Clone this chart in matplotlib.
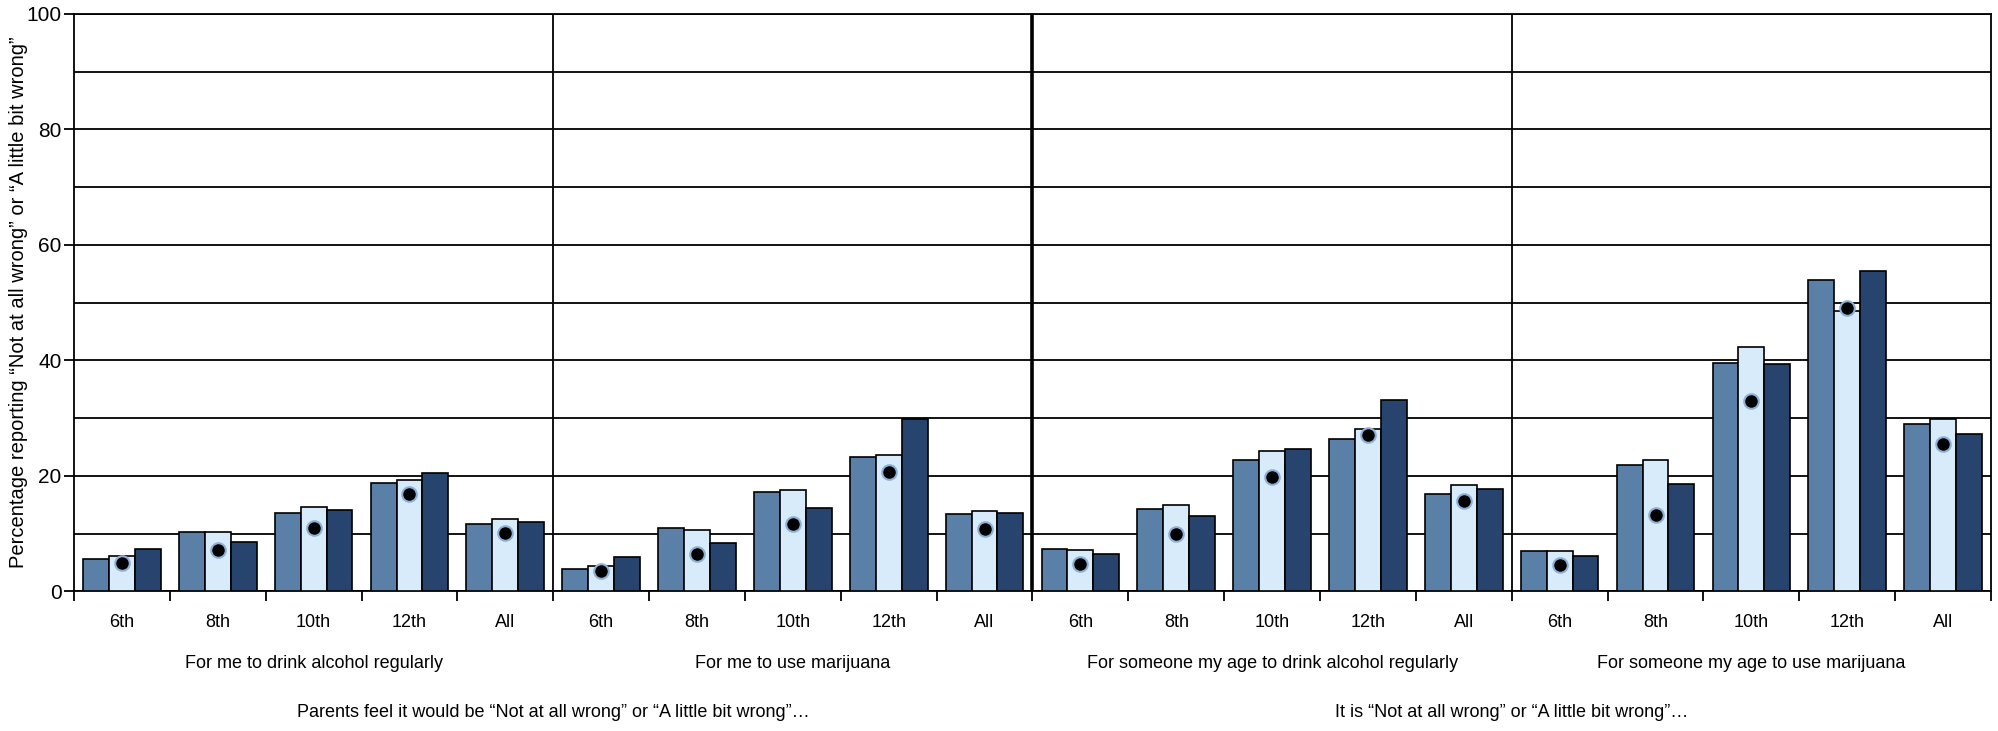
import matplotlib.pyplot as plt
import numpy as np

plt.rcParams['font.family'] = ['Liberation Sans', 'DejaVu Sans']

grades = ["6th", "8th", "10th", "12th", "All"]
panels = ["For me to drink alcohol regularly",
          "For me to use marijuana",
          "For someone my age to drink alcohol regularly",
          "For someone my age to use marijuana"]
groups = ["Parents feel it would be \u201cNot at all wrong\u201d or \u201cA little bit wrong\u201d\u2026",
          "It is \u201cNot at all wrong\u201d or \u201cA little bit wrong\u201d\u2026"]

# three series per grade, panels concatenated
series_a = [5.6, 10.3, 13.5, 18.8, 11.7,
            3.8, 10.9, 17.2, 23.2, 13.4,
            7.4, 14.2, 22.8, 26.4, 16.9,
            7.0, 21.9, 39.6, 53.9, 29.0]
series_b = [6.1, 10.3, 14.6, 19.3, 12.5,
            4.4, 10.6, 17.5, 23.7, 13.9,
            7.1, 14.9, 24.3, 28.2, 18.4,
            7.0, 22.8, 42.3, 48.6, 29.8]
series_c = [7.3, 8.5, 14.1, 20.5, 12.0,
            5.9, 8.3, 14.5, 29.9, 13.6,
            6.5, 13.1, 24.6, 33.2, 17.7,
            6.2, 18.6, 39.4, 55.4, 27.2]
dots = [4.9, 7.2, 11.0, 16.9, 10.1,
        3.6, 6.5, 11.6, 20.7, 10.8,
        4.7, 10.0, 19.8, 27.1, 15.7,
        4.6, 13.3, 33.0, 49.1, 25.6]

colors = ["#5b80a8", "#d8ebfb", "#26446e"]

fig = plt.figure(figsize=(19.99, 7.31), dpi=100)
ax = fig.add_axes([0.037, 0.191, 0.959, 0.790])

x = np.arange(len(series_a))
w = 0.27
for off, vals, c in zip([-w, 0, w], [series_a, series_b, series_c], colors):
    ax.bar(x + off, vals, width=w, color=c, edgecolor="black", linewidth=1.2, zorder=3)
ax.plot(x, dots, "o", color="black", markersize=10.5, markeredgecolor="#8fb0d6",
        markeredgewidth=1.5, zorder=4)

ax.set_xlim(-0.5, len(x) - 0.5)
ax.set_ylim(0, 100)
ax.set_yticks(range(0, 101, 20))
ax.set_yticks(range(10, 100, 20), minor=True)
ax.grid(True, axis="y", which="both", color="black", linewidth=1.3, zorder=1)
ax.tick_params(axis="y", which="major", labelsize=15, length=7, width=1.3, pad=2)
ax.tick_params(axis="y", which="minor", length=0)

ax.set_xticks(x)
ax.set_xticklabels(grades * 4, fontsize=13)
ax.set_xticks(np.arange(-0.5, len(x), 1), minor=True)
ax.tick_params(axis="x", which="major", length=0, pad=16)
ax.tick_params(axis="x", which="minor", length=7, width=1.3)

for s in ax.spines.values():
    s.set_linewidth(1.3)

for b, lw in zip([4.5, 9.5, 14.5], [1.3, 2.6, 1.3]):
    ax.axvline(b, color="black", linewidth=lw, zorder=2)

# y label placed by hand so it is not clipped
fig.text(0.0095, 0.191 + 0.790 / 2,
         "Percentage reporting \u201cNot at all wrong\u201d or \u201cA little bit wrong\u201d",
         rotation=90, ha="center", va="center", fontsize=14.5)

trans = ax.get_xaxis_transform()
for i, p in enumerate(panels):
    ax.text(2 + 5 * i, -0.125, p, transform=trans, ha="center", va="center", fontsize=13)
for i, g in enumerate(groups):
    ax.text(4.5 + 10 * i, -0.21, g, transform=trans, ha="center", va="center", fontsize=13)

fig.savefig("out.png")
